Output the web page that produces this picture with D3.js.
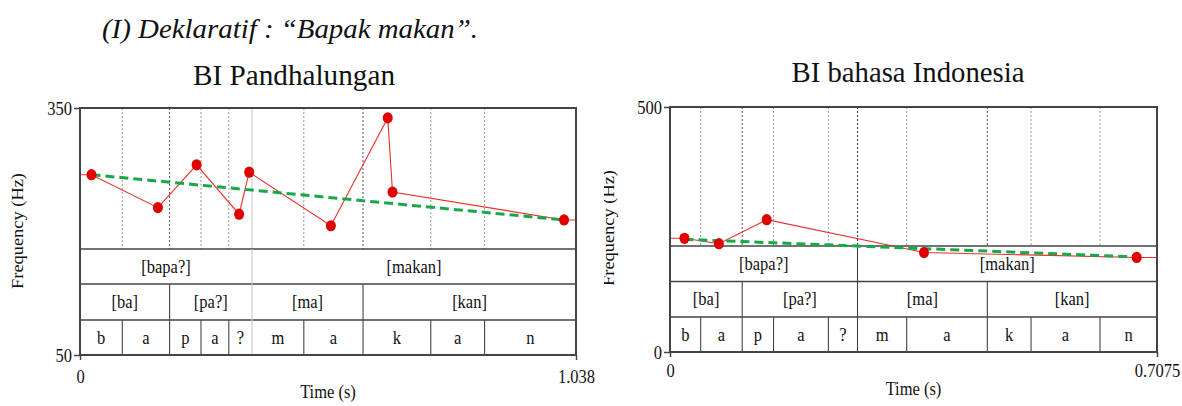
<!DOCTYPE html>
<html><head><meta charset="utf-8">
<script src="https://cdn.jsdelivr.net/npm/d3@7"></script>
<style>body{margin:0;background:#fff}svg{display:block}svg text{font-family:"Liberation Serif","Times New Roman",serif}</style>
</head><body>
<svg id="c" width="1182" height="406"></svg>
<script>
// ---------------- data ----------------
const titleText = "(I) Deklaratif : “Bapak makan”.";
const leftTitle = "BI Pandhalungan";
const rightTitle = "BI bahasa Indonesia";

// Left: BI Pandhalungan
const leftTimes = [0.024, 0.163, 0.244, 0.333, 0.354, 0.525, 0.644, 0.654, 1.013];
const leftF0    = [269, 229, 281, 221, 272, 207, 338, 248, 214];
const leftTrendTimes = [0.024, 1.013];
const leftTrendF0    = [269, 214];
const leftYTicks = [50, 350];
const leftXTicks = [0, 1.038];
const leftXTickLabels = ["0", "1.038"];
const leftWordBounds = [0, 0.36, 1.038];
const leftWordLabels = ["[bapa?]", "[makan]"];
const leftSylBounds = [0, 0.1875, 0.36, 0.5923, 1.038];
const leftSylLabels = ["[ba]", "[pa?]", "[ma]", "[kan]"];
const leftPhoneBounds = [0, 0.0885, 0.1875, 0.2532, 0.3114, 0.36, 0.4684, 0.5923, 0.7341, 0.8467, 1.038];
const leftPhoneLabels = ["b", "a", "p", "a", "?", "m", "a", "k", "a", "n"];

// Right: BI bahasa Indonesia
const rightTimes = [0.021, 0.071, 0.1405, 0.369, 0.678];
const rightF0    = [232, 221, 270, 203, 193];
const rightTrendTimes = [0.021, 0.678];
const rightTrendF0    = [230, 194];
const rightYTicks = [0, 500];
const rightXTicks = [0, 0.7075];
const rightXTickLabels = ["0", "0.7075"];
const rightWordBounds = [0, 0.2724, 0.7075];
const rightWordLabels = ["[bapa?]", "[makan]"];
const rightSylBounds = [0, 0.1049, 0.2724, 0.4610, 0.7075];
const rightSylLabels = ["[ba]", "[pa?]", "[ma]", "[kan]"];
const rightPhoneBounds = [0, 0.0446, 0.1049, 0.1504, 0.2301, 0.2724, 0.3439, 0.4610, 0.5245, 0.6247, 0.7075];
const rightPhoneLabels = ["b", "a", "p", "a", "?", "m", "a", "k", "a", "n"];

// ---------------- drawing ----------------
const svg = d3.select("#c");
const SERIF = '"Liberation Serif","Times New Roman",serif';
const STRETCH = 1.15;

svg.append("text")
  .attr("x", 102).attr("y", 38)
  .style("font-family", SERIF).style("font-style", "italic")
  .attr("font-size", 27).attr("fill", "#111")
  .attr("textLength", 376).attr("lengthAdjust", "spacingAndGlyphs")
  .text(titleText);

function stext(g, x, y, str, size, anchor) {
  return g.append("text")
    .attr("transform", `translate(${x},${y}) scale(1,${STRETCH})`)
    .attr("text-anchor", anchor || "middle")
    .style("font-family", SERIF).attr("font-size", size).attr("fill", "#111")
    .text(str);
}

function drawChart(cfg) {
  const g = svg.append("g");
  const x = d3.scaleLinear().domain([cfg.xTicks[0], cfg.xTicks[1]]).range([cfg.x0, cfg.x1]);
  const y = d3.scaleLinear().domain([cfg.yTicks[0], cfg.yTicks[1]]).range([cfg.y1, cfg.y0]);
  const tierTop = cfg.tiers[0];

  // title
  g.append("text").attr("x", cfg.titleX).attr("y", cfg.titleY)
    .attr("text-anchor", "middle").style("font-family", SERIF)
    .attr("font-size", 29).attr("fill", "#111")
    .attr("textLength", cfg.titleW).attr("lengthAdjust", "spacingAndGlyphs")
    .text(cfg.title);

  // vertical grid in pitch area
  const inner = cfg.phoneBounds.slice(1, -1);
  const sylSet = new Set(cfg.sylBounds.slice(1, -1));
  const wordSet = new Set(cfg.wordBounds.slice(1, -1));
  g.selectAll(".vg").data(inner).enter().append("line")
    .attr("x1", d => x(d)).attr("x2", d => x(d))
    .attr("y1", cfg.y0).attr("y2", tierTop)
    .attr("stroke", d => wordSet.has(d) ? cfg.wordGridColor : (sylSet.has(d) ? "#555" : "#999"))
    .attr("stroke-width", 1)
    .attr("stroke-dasharray", d => (wordSet.has(d) && cfg.wordSolid) ? null : "2,2");

  // tier horizontal lines
  g.selectAll(".th").data(cfg.tiers.slice(0, -1)).enter().append("line")
    .attr("x1", cfg.x0).attr("x2", cfg.x1).attr("y1", d => d).attr("y2", d => d)
    .attr("stroke", "#444").attr("stroke-width", 1.7);

  // tier boundaries and labels
  const tierDefs = [
    [cfg.wordBounds, cfg.wordLabels],
    [cfg.sylBounds, cfg.sylLabels],
    [cfg.phoneBounds, cfg.phoneLabels]
  ];
  tierDefs.forEach(([b, labels], i) => {
    const t0 = cfg.tiers[i], t1 = cfg.tiers[i + 1];
    b.slice(1, -1).forEach(v => {
      const isWord = wordSet.has(v);
      g.append("line").attr("x1", x(v)).attr("x2", x(v)).attr("y1", t0).attr("y2", t1)
        .attr("stroke", (isWord && cfg.wordSolid) ? cfg.wordGridColor : "#444").attr("stroke-width", 1.1);
    });
    labels.forEach((lab, k) => {
      stext(g, (x(b[k]) + x(b[k + 1])) / 2, (t0 + t1) / 2 + 6, lab, 16.5);
    });
  });

  // pitch contour
  const pts = cfg.times.map((t, i) => [t, cfg.f0[i]]);
  const linePts = [[cfg.xTicks[0], cfg.f0[0]], ...pts, [cfg.xTicks[1], cfg.f0[cfg.f0.length - 1]]];
  const line = d3.line().x(d => x(d[0])).y(d => y(d[1]));
  g.append("path").attr("d", line(linePts)).attr("fill", "none")
    .attr("stroke", "#e8302c").attr("stroke-width", 1.1);

  // trend line
  const trend = cfg.trendTimes.map((t, i) => [t, cfg.trendF0[i]]);
  g.append("path").attr("d", line(trend)).attr("fill", "none")
    .attr("stroke", "#18a84a").attr("stroke-width", 3).attr("stroke-dasharray", "9,5");

  // points
  g.selectAll(".pt").data(pts).enter().append("ellipse")
    .attr("cx", d => x(d[0])).attr("cy", d => y(d[1]))
    .attr("rx", 5).attr("ry", 5.6).attr("fill", "#e00000");

  // frame
  g.append("rect").attr("x", cfg.x0).attr("y", cfg.y0)
    .attr("width", cfg.x1 - cfg.x0).attr("height", cfg.y1 - cfg.y0)
    .attr("fill", "none").attr("stroke", "#444").attr("stroke-width", 2);

  // y axis
  const ya = g.append("g").attr("transform", `translate(${cfg.x0},0)`)
    .call(d3.axisLeft(y).tickValues(cfg.yTicks).tickSize(6).tickPadding(2).tickFormat(d3.format("d")));
  ya.select(".domain").remove();
  ya.selectAll(".tick line").attr("stroke", "#444").attr("stroke-width", 1.5);
  ya.selectAll(".tick text").style("font-family", SERIF).attr("font-size", 16.5).attr("fill", "#111")
    .attr("dy", "0.36em").attr("transform", `scale(1,${STRETCH})`);

  // x axis
  const xa = g.append("g").attr("transform", `translate(0,${cfg.y1})`)
    .call(d3.axisBottom(x).tickValues(cfg.xTicks).tickSize(5).tickPadding(cfg.xPad)
      .tickFormat((d, i) => cfg.xTickLabels[i]));
  xa.select(".domain").remove();
  xa.selectAll(".tick line").attr("stroke", "#444").attr("stroke-width", 1.5);
  xa.selectAll(".tick text").style("font-family", SERIF).attr("font-size", 16.5).attr("fill", "#111")
    .attr("transform", `scale(1,${STRETCH})`);

  // axis titles
  stext(g, (cfg.x0 + cfg.x1) / 2, cfg.timeY, "Time (s)", 16.5);
  const fl = g.append("g");
  if (cfg.clipX != null) {
    svg.append("clipPath").attr("id", "clipR").append("rect")
      .attr("x", cfg.clipX).attr("y", 0).attr("width", 200).attr("height", 406);
    fl.attr("clip-path", "url(#clipR)");
  }
  fl.append("text")
    .attr("transform", `translate(${cfg.freqX},${cfg.freqY}) rotate(-90) scale(${STRETCH},1)`)
    .attr("text-anchor", "middle").style("font-family", SERIF).attr("font-size", 16)
    .attr("fill", "#111").text("Frequency (Hz)");
}

drawChart({
  title: leftTitle, titleX: 294, titleY: 85, titleW: 202,
  x0: 80, x1: 576, y0: 108, y1: 355, tiers: [249, 284, 320, 355],
  times: leftTimes, f0: leftF0, trendTimes: leftTrendTimes, trendF0: leftTrendF0,
  yTicks: leftYTicks, xTicks: leftXTicks, xTickLabels: leftXTickLabels,
  wordBounds: leftWordBounds, wordLabels: leftWordLabels,
  sylBounds: leftSylBounds, sylLabels: leftSylLabels,
  phoneBounds: leftPhoneBounds, phoneLabels: leftPhoneLabels,
  wordSolid: true, wordGridColor: "#c8c8c8",
  xPad: 8, timeY: 398, freqX: 23, freqY: 231, clipX: null
});

drawChart({
  title: rightTitle, titleX: 908, titleY: 82, titleW: 233,
  x0: 670, x1: 1157, y0: 107, y1: 352, tiers: [246, 281.5, 317, 352],
  times: rightTimes, f0: rightF0, trendTimes: rightTrendTimes, trendF0: rightTrendF0,
  yTicks: rightYTicks, xTicks: rightXTicks, xTickLabels: rightXTickLabels,
  wordBounds: rightWordBounds, wordLabels: rightWordLabels,
  sylBounds: rightSylBounds, sylLabels: rightSylLabels,
  phoneBounds: rightPhoneBounds, phoneLabels: rightPhoneLabels,
  wordSolid: false, wordGridColor: "#333",
  xPad: 5, timeY: 395, freqX: 614, freqY: 228, clipX: 604
});
</script>
</body></html>
